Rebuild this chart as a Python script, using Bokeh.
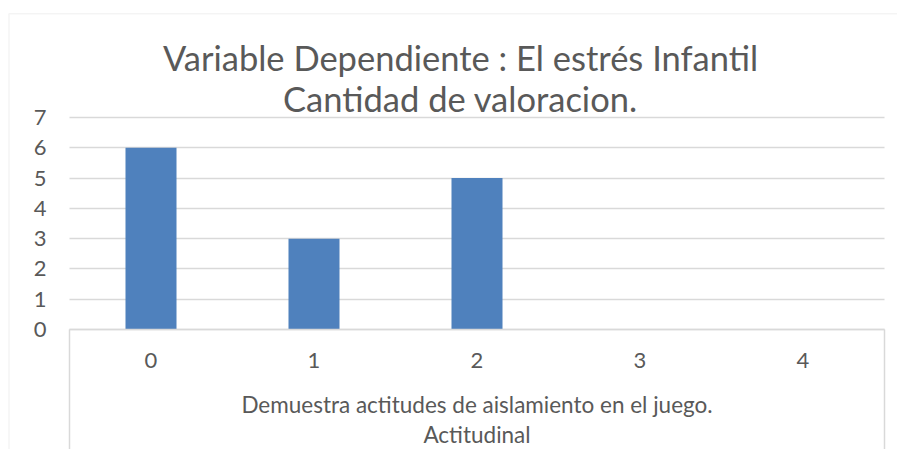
from bokeh.plotting import figure
from bokeh.models import FixedTicker, Label, BoxAnnotation, Range1d, LinearAxis, Grid
from bokeh.embed import file_html
from bokeh.resources import INLINE

# ---- data ----
categories = [0, 1, 2, 3, 4]
cat_labels = ["0", "1", "2", "3", "4"]
values = [6, 3, 5, 0, 0]
y_ticks = [0, 1, 2, 3, 4, 5, 6, 7]
title_lines = ["Variable Dependiente : El estrés Infantil", "Cantidad de valoracion."]
x_axis_title = "Demuestra actitudes de aislamiento en el juego."
x_group_title = "Actitudinal"

FONT = "Lato"
TXT = "#595959"
GRID = "#D9D9D9"
BAR = "#4F81BD"

# geometry of the plotting box inside the canvas (pixels from top-left)
W, H = 897, 449
left_px, right_px, top_px, bottom_px = 69, 884, 117, 329
x0, x1 = -0.5, 4.5
y0, y1 = 0, 7
sx = (right_px - left_px) / (x1 - x0)
sy = (bottom_px - top_px) / (y1 - y0)
xr = Range1d(x0 - left_px / sx, x1 + (W - right_px) / sx)
yr = Range1d(y0 - (H - bottom_px) / sy, y1 + top_px / sy)


def py(pixel_y):
    """canvas pixel row -> data y"""
    return y0 + (bottom_px - pixel_y) / sy


def px(pixel_x):
    """canvas pixel column -> data x"""
    return x0 + (pixel_x - left_px) / sx


p = figure(width=W, height=H, output_backend="svg", toolbar_location=None,
           x_range=xr, y_range=yr, x_axis_location=None, y_axis_location=None,
           min_border=0)
p.outline_line_color = None
p.background_fill_color = "white"
p.border_fill_color = "white"
p.xgrid.visible = False
p.ygrid.visible = False

# gridlines
g = Grid(dimension=1, ticker=FixedTicker(ticks=y_ticks), bounds=(y0, y1),
         cross_bounds=(x0, x1), grid_line_color=GRID, grid_line_width=1.5)
p.add_layout(g)

p.vbar(x=categories, top=values, width=0.313, color=BAR, line_color=None)

# y axis
ya = LinearAxis(fixed_location=x0, ticker=FixedTicker(ticks=y_ticks), bounds=(y0, y1))
ya.axis_line_color = None
ya.major_tick_line_color = None
ya.major_tick_out = 0
ya.major_tick_in = 0
ya.minor_tick_line_color = None
ya.major_label_standoff = 23
ya.major_label_text_font = FONT
ya.major_label_text_font_size = "22px"
ya.major_label_text_color = TXT
p.add_layout(ya, "left")

# category box lines (left/right dividers of the category axis)
box_axis = LinearAxis(fixed_location=y0, bounds=(x0, x1),
                      ticker=FixedTicker(ticks=[x0, x1], minor_ticks=[]))
box_axis.major_label_overrides = {x0: "", x1: ""}
box_axis.axis_line_color = None
box_axis.major_tick_in = 0
box_axis.major_tick_out = 140
box_axis.major_tick_line_color = GRID
box_axis.major_tick_line_width = 1.5
box_axis.minor_tick_line_color = None
p.add_layout(box_axis, "below")

# x axis
xa = LinearAxis(fixed_location=y0, bounds=(x0, x1),
                ticker=FixedTicker(ticks=categories, minor_ticks=[]))
xa.major_label_overrides = {c: l for c, l in zip(categories, cat_labels)}
xa.axis_line_color = GRID
xa.axis_line_width = 1.5
xa.major_tick_line_color = None
xa.major_tick_out = 0
xa.major_tick_in = 0
xa.minor_tick_line_color = None
xa.minor_tick_in = 0
xa.minor_tick_out = 0
xa.major_label_standoff = 23
xa.major_label_text_font = FONT
xa.major_label_text_font_size = "22px"
xa.major_label_text_color = TXT
xa.axis_label = x_axis_title
xa.axis_label_text_font = FONT
xa.axis_label_text_font_size = "22.5px"
xa.axis_label_text_font_style = "normal"
xa.axis_label_text_color = TXT
xa.axis_label_standoff = 20
p.add_layout(xa, "below")

# title lines
for txt, base in zip(title_lines, [56.5, 97.5]):
    p.add_layout(Label(x=px(460), y=py(base), text=txt, text_align="center",
                       text_baseline="alphabetic", text_font=FONT,
                       text_font_size="34.5px", text_color=TXT))

p.add_layout(Label(x=(x0 + x1) / 2, y=py(433.5), text=x_group_title, text_align="center",
                   text_baseline="alphabetic", text_font=FONT,
                   text_font_size="22.5px", text_color=TXT))

# outer chart frame (left and top edges visible)
p.add_layout(BoxAnnotation(left=px(8.5), right=xr.end + 5, top=py(13.3), bottom=yr.start - 5,
                           fill_color=None, line_color=GRID, line_width=1.5))

open("out.html", "w").write(file_html(p, INLINE))
